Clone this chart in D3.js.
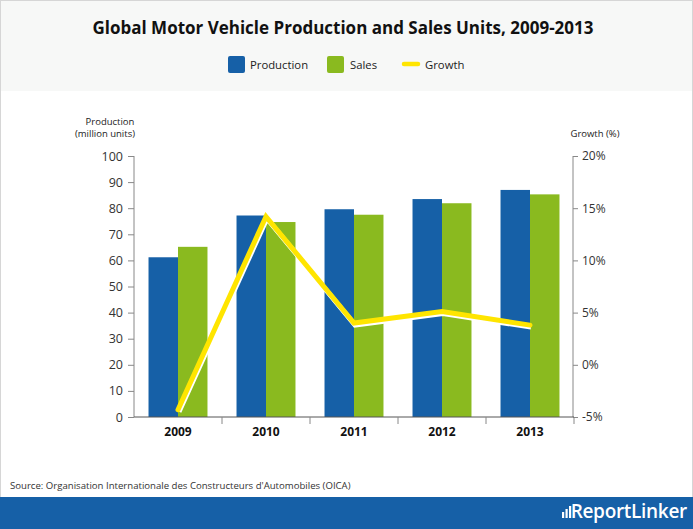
<!DOCTYPE html>
<html><head><meta charset="utf-8">
<script src="https://cdn.jsdelivr.net/npm/d3@7"></script>
<style>
body{margin:0;padding:0;background:#fff;}
svg{display:block;font-family:"Open Sans",sans-serif;}
</style></head>
<body><svg id="c" width="693" height="529"></svg>
<script>
const years = ["2009","2010","2011","2012","2013"];
const production = [61.2, 77.2, 79.6, 83.5, 87.0];
const sales = [65.2, 74.7, 77.5, 81.9, 85.3];
const growth = [-4.3, 14.2, 4.0, 5.1, 3.8];
const leftTicks = [0,10,20,30,40,50,60,70,80,90,100];
const rightTicks = [-5,0,5,10,15,20];
const seriesNames = ["Production","Sales","Growth"];
const colors = {Production:"#1660a7", Sales:"#8aba1f", Growth:"#ffe500"};

const svg = d3.select("#c");
svg.append("rect").attr("x",0).attr("y",0).attr("width",693).attr("height",91).attr("fill","#f7f8f7");
svg.append("rect").attr("x",0.5).attr("y",0.5).attr("width",692).attr("height",528).attr("fill","none").attr("stroke","#d6d6d6");
svg.append("rect").attr("x",0).attr("y",497).attr("width",693).attr("height",32).attr("fill","#1660a7");

svg.append("text").attr("x",343).attr("y",34).attr("text-anchor","middle")
  .attr("font-size",17.5).attr("font-weight","bold").attr("fill","#111")
  .attr("textLength",501).attr("lengthAdjust","spacingAndGlyphs")
  .text("Global Motor Vehicle Production and Sales Units, 2009-2013");

const lg = svg.append("g");
lg.append("rect").attr("x",228).attr("y",56).attr("width",17).attr("height",17).attr("rx",2).attr("fill",colors.Production);
lg.append("text").attr("x",250).attr("y",68.5).attr("font-size",11.3).attr("fill","#222").text(seriesNames[0]);
lg.append("rect").attr("x",327).attr("y",56).attr("width",17).attr("height",17).attr("rx",2).attr("fill",colors.Sales);
lg.append("text").attr("x",350).attr("y",68.5).attr("font-size",11.3).attr("fill","#222").text(seriesNames[1]);
lg.append("line").attr("x1",404).attr("x2",418).attr("y1",64).attr("y2",64).attr("stroke",colors.Growth).attr("stroke-width",4.5).attr("stroke-linecap","round");
lg.append("text").attr("x",425).attr("y",68.5).attr("font-size",11.3).attr("fill","#222").text(seriesNames[2]);

const x = d3.scaleBand().domain(years).range([134,574]).paddingInner(0.33).paddingOuter(0.165);
const xs = d3.scaleBand().domain(["Production","Sales"]).range([0,x.bandwidth()]);
const yL = d3.scaleLinear().domain([0,100]).range([417,156]);
const yR = d3.scaleLinear().domain([-5,20]).range([417,156]);

const g = svg.append("g");
years.forEach((yr,i)=>{
  g.append("rect").attr("x",x(yr)+xs("Production")).attr("y",yL(production[i]))
    .attr("width",xs.bandwidth()).attr("height",yL(0)-yL(production[i])).attr("fill",colors.Production);
  g.append("rect").attr("x",x(yr)+xs("Sales")).attr("y",yL(sales[i]))
    .attr("width",xs.bandwidth()).attr("height",yL(0)-yL(sales[i])).attr("fill",colors.Sales);
});

const axisColor = "#888";
const lAx = svg.append("g").attr("transform","translate(134,0)")
  .call(d3.axisLeft(yL).tickValues(leftTicks).tickSize(6).tickPadding(5));
lAx.select(".domain").attr("stroke",axisColor).attr("d","M0,156V417");
lAx.selectAll(".tick line").attr("stroke",axisColor);
lAx.selectAll("text").attr("font-size",12.5).attr("fill","#333").attr("font-family","Open Sans");

const rAx = svg.append("g").attr("transform","translate(573,0)")
  .call(d3.axisRight(yR).tickValues(rightTicks).tickSize(5).tickPadding(4).tickFormat(d=>d+"%"));
rAx.select(".domain").attr("stroke",axisColor).attr("d","M0,156V417");
rAx.selectAll(".tick line").attr("stroke",axisColor);
rAx.selectAll("text").attr("font-size",12).attr("fill","#333").attr("font-family","Open Sans");

const bAx = svg.append("g").attr("transform","translate(0,417)")
  .call(d3.axisBottom(x).tickSize(0).tickPadding(10));
bAx.select(".domain").attr("stroke","#555").attr("d","M134,0H574");
bAx.selectAll("text").attr("font-size",12).attr("font-weight","bold").attr("fill","#111").attr("font-family","Open Sans");
const bounds = years.slice(1).map(y=>x(y)-x.step()*x.paddingInner()/2).concat([x.range()[1]]);
bAx.selectAll(".bt").data(bounds).enter().append("line").attr("x1",d=>d).attr("x2",d=>d)
  .attr("y1",0).attr("y2",7).attr("stroke",axisColor);

svg.append("text").attr("x",110).attr("y",125).attr("text-anchor","middle").attr("font-size",9.5).attr("fill","#222").text("Production");
svg.append("text").attr("x",105).attr("y",137).attr("text-anchor","middle").attr("font-size",9.5).attr("fill","#222").text("(million units)");
svg.append("text").attr("x",595).attr("y",137).attr("text-anchor","middle").attr("font-size",9.5).attr("fill","#222").text("Growth (%)");

const line = d3.line().x((d,i)=>x(years[i])+x.bandwidth()/2).y(d=>yR(d));
svg.append("path").datum(growth).attr("d",line).attr("fill","none").attr("stroke","#fff")
  .attr("stroke-width",5).attr("stroke-linejoin","miter").attr("transform","translate(1,2)");
svg.append("path").datum(growth).attr("d",line).attr("fill","none").attr("stroke",colors.Growth)
  .attr("stroke-width",5).attr("stroke-linejoin","miter").attr("stroke-linecap","round");

svg.append("text").attr("x",10).attr("y",489).attr("font-size",9.6).attr("fill","#333")
  .text("Source: Organisation Internationale des Constructeurs d'Automobiles (OICA)");

const logo = svg.append("g");
[[562,6],[565.5,9],[569,12]].forEach(b=>{
  logo.append("rect").attr("x",b[0]).attr("y",518-b[1]).attr("width",2.2).attr("height",b[1]).attr("fill","#fff");
});
logo.append("text").attr("x",687).attr("y",518).attr("text-anchor","end").attr("font-size",19)
  .attr("font-weight","600").attr("fill","#fff").attr("letter-spacing",-0.3).text("ReportLinker");
</script></body></html>
